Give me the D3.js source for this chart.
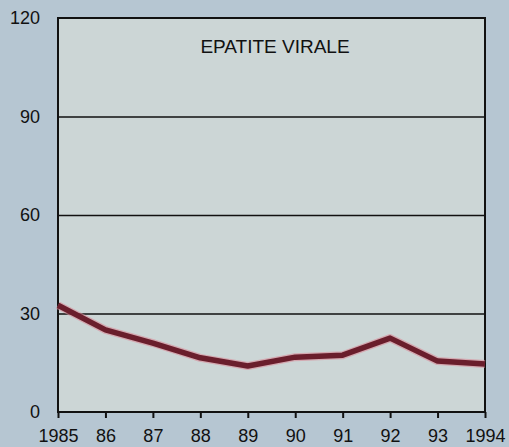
<!DOCTYPE html>
<html>
<head>
<meta charset="utf-8">
<script src="https://cdn.jsdelivr.net/npm/d3@7"></script>
<style>
  body { margin: 0; background: #b6c6d2; }
  svg { display: block; }
</style>
</head>
<body>
<div id="chart"></div>
<script>
// Epatite virale, 1985-1994
var years = [1985, 1986, 1987, 1988, 1989, 1990, 1991, 1992, 1993, 1994];
var yearLabels = ["1985", "86", "87", "88", "89", "90", "91", "92", "93", "1994"];
var cases = [32.5, 25, 21, 16.5, 14, 16.7, 17.3, 22.5, 15.5, 14.6];
var yTicks = [0, 30, 60, 90, 120];
var title = "EPATITE VIRALE";

var margin = {top: 18, right: 24, bottom: 35, left: 58},
  width = 509 - margin.left - margin.right,
  height = 447 - margin.top - margin.bottom;

var svg = d3.select("#chart")
  .append("svg")
    .attr("width", 509)
    .attr("height", 447)
  .append("g")
    .attr("transform", "translate(" + margin.left + "," + margin.top + ")");

var x = d3.scaleLinear()
  .domain([1985, 1994])
  .range([0, width]);

var y = d3.scaleLinear()
  .domain([0, 120])
  .range([height, 0]);

// plot background
svg.append("rect")
  .attr("width", width)
  .attr("height", height)
  .style("fill", "#ccd6d6");

// gridlines
svg.append("g")
  .call(d3.axisLeft(y).tickValues(yTicks.slice(1, 4)).tickSize(-width).tickFormat(""))
  .call(function(g) { g.select(".domain").remove(); })
  .selectAll("line")
    .style("stroke", "#111")
    .style("stroke-width", 1.6);

// frame
svg.append("rect")
  .attr("width", width)
  .attr("height", height)
  .style("fill", "none")
  .style("stroke", "#111")
  .style("stroke-width", 2);

// y labels
svg.append("g")
  .call(d3.axisLeft(y).tickValues(yTicks).tickSize(0).tickPadding(18))
  .call(function(g) { g.select(".domain").remove(); })
  .selectAll("text")
    .style("font-family", "Liberation Sans, Arial, sans-serif")
    .style("font-size", "18px")
    .style("fill", "#111");

// x axis
svg.append("g")
  .attr("transform", "translate(0," + height + ")")
  .call(d3.axisBottom(x).tickValues(years).tickSize(6).tickPadding(11)
    .tickFormat(function(d, i) { return yearLabels[i]; }))
  .call(function(g) { g.select(".domain").remove(); })
  .call(function(g) {
    g.selectAll("line").style("stroke", "#111").style("stroke-width", 2);
    g.selectAll("text")
      .style("font-family", "Liberation Sans, Arial, sans-serif")
      .style("font-size", "18px")
      .style("fill", "#111");
  });

// the line
var line = d3.line()
  .x(function(d, i) { return x(years[i]); })
  .y(function(d) { return y(d); });

svg.append("path")
  .datum(cases)
  .attr("d", line)
  .style("fill", "none")
  .style("stroke", "#d88a98")
  .style("stroke-width", 8)
  .style("stroke-linejoin", "round")
  .style("opacity", 0.6);

svg.append("path")
  .datum(cases)
  .attr("d", line)
  .style("fill", "none")
  .style("stroke", "#6a1e2c")
  .style("stroke-width", 5.5)
  .style("stroke-linejoin", "round");

// title
svg.append("text")
  .attr("x", 217)
  .attr("y", 35)
  .attr("text-anchor", "middle")
  .style("font-family", "Liberation Sans, Arial, sans-serif")
  .style("font-size", "19px")
  .style("fill", "#111")
  .text(title);
</script>
</body>
</html>
